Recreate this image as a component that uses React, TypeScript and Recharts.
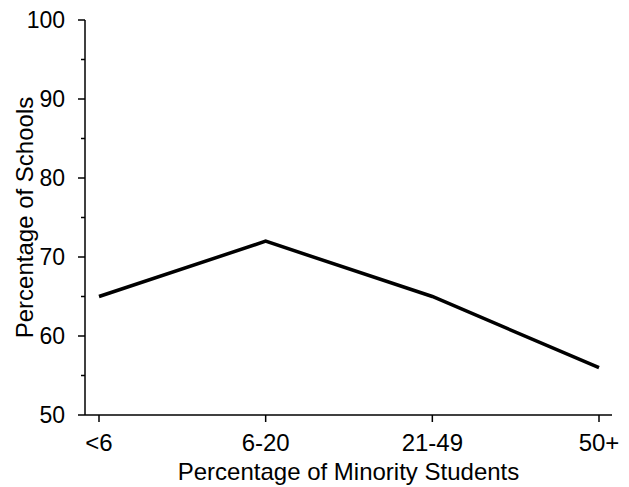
import React from 'react';
import { LineChart, Line, XAxis, YAxis, Label } from 'recharts';

const categories = ['<6', '6-20', '21-49', '50+'];
const schoolPct = [65, 72, 65, 56];
const yTicks = [50, 55, 60, 65, 70, 75, 80, 85, 90, 95, 100];

const data = categories.map((c, i) => ({ group: c, pct: schoolPct[i] }));

const FONT = '"Liberation Sans", Arial, Helvetica, sans-serif';

const YTick = (props: any) => {
  const { x, y, payload } = props;
  const major = payload.value % 10 === 0;
  return (
    <g>
      <line x1={x - (major ? 7 : 4)} x2={x} y1={y} y2={y} stroke="#000" strokeWidth={1.5} />
      {major && (
        <text x={x - 20} y={y + 8} textAnchor="end" fontSize={23} fill="#000" fontFamily={FONT}>
          {payload.value}
        </text>
      )}
    </g>
  );
};

const App: React.FC = () => {
  return (
    <div style={{ position: 'absolute', left: 0, top: 0, background: '#fff' }}>
      <LineChart width={629} height={487} data={data} margin={{ top: 20, right: 17, left: 0, bottom: 0 }}>
        <XAxis
          dataKey="group"
          height={72}
          padding={{ left: 14, right: 13 }}
          axisLine={{ stroke: '#000', strokeWidth: 1.5 }}
          tickLine={{ stroke: '#000', strokeWidth: 1.5 }}
          tickSize={7}
          tickMargin={12}
          tick={{ fontSize: 24, fill: '#000', fontFamily: FONT }}
          interval={0}
        >
          <Label
            value="Percentage of Minority Students"
            position="insideBottom"
            offset={7}
            style={{ fontSize: 24, fill: '#000', fontFamily: FONT }}
          />
        </XAxis>
        <YAxis
          width={85}
          domain={[50, 100]}
          ticks={yTicks}
          interval={0}
          axisLine={{ stroke: '#000', strokeWidth: 1.5 }}
          tickLine={false}
          tickSize={0}
          tickMargin={0}
          tick={<YTick />}
        >
          <Label
            value="Percentage of Schools"
            angle={-90}
            position="insideLeft"
            offset={24}
            style={{ fontSize: 24, fill: '#000', fontFamily: FONT, textAnchor: 'middle' }}
          />
        </YAxis>
        <Line
          type="linear"
          dataKey="pct"
          stroke="#000"
          strokeWidth={3.5}
          dot={false}
          isAnimationActive={false}
        />
      </LineChart>
    </div>
  );
};

export default App;
